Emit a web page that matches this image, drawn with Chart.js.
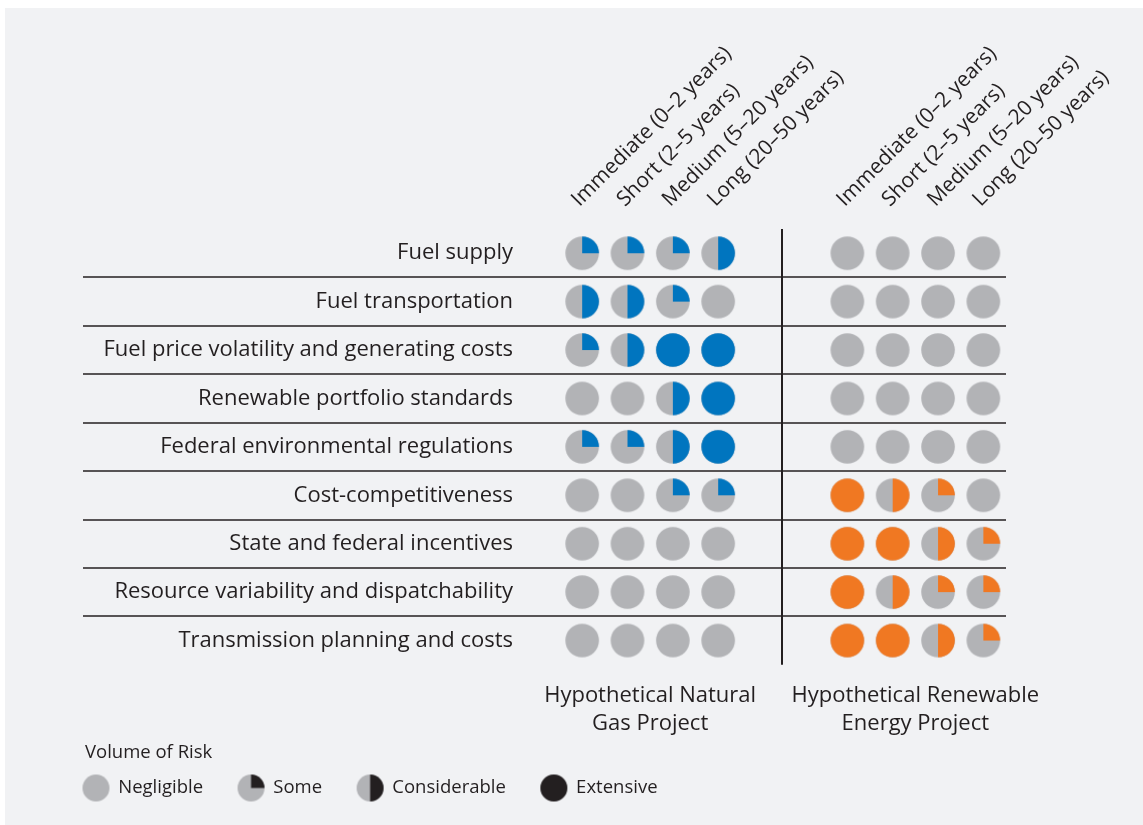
<!DOCTYPE html>
<html>
<head>
<meta charset="utf-8">
<script src="https://cdn.jsdelivr.net/npm/chart.js@4.4.0/dist/chart.umd.min.js"></script>
<style>
  html, body { margin: 0; padding: 0; background: #ffffff; }
  #wrap { width: 1143px; height: 825px; }
</style>
</head>
<body>
<div id="wrap"><canvas id="riskChart"></canvas></div>
<script>
var risks = [
  "Fuel supply",
  "Fuel transportation",
  "Fuel price volatility and generating costs",
  "Renewable portfolio standards",
  "Federal environmental regulations",
  "Cost-competitiveness",
  "State and federal incentives",
  "Resource variability and dispatchability",
  "Transmission planning and costs"
];
var horizons = ["Immediate (0\u20132 years)", "Short (2\u20135 years)", "Medium (5\u201320 years)", "Long (20\u201350 years)"];
var projectLabels = [
  ["Hypothetical Natural", "Gas Project"],
  ["Hypothetical Renewable", "Energy Project"]
];
var riskLevels = ["Negligible", "Some", "Considerable", "Extensive"];

// 0 = negligible, 1 = some, 2 = considerable, 3 = extensive
var gasRisk = [
  [1, 1, 1, 2],
  [2, 2, 1, 0],
  [1, 2, 3, 3],
  [0, 0, 2, 3],
  [1, 1, 2, 3],
  [0, 0, 1, 1],
  [0, 0, 0, 0],
  [0, 0, 0, 0],
  [0, 0, 0, 0]
];
var renewableRisk = [
  [0, 0, 0, 0],
  [0, 0, 0, 0],
  [0, 0, 0, 0],
  [0, 0, 0, 0],
  [0, 0, 0, 0],
  [3, 2, 1, 0],
  [3, 3, 2, 1],
  [3, 2, 1, 1],
  [3, 3, 2, 1]
];

var FONT = "'Open Sans', 'DejaVu Sans', sans-serif";
var TEXT = '#231f20';
var GREY = '#b2b3b6';
var BLUE = '#0075bf';
var ORANGE = '#f07822';
var PANEL = '#f1f2f4';

// column layout on the x scale
var GROUP_SHIFT = 5.85;     // first column of the second project
var DIVIDER_AT = 4.41;      // vertical rule between the projects
var RULE_LEFT = 83;         // row rules run out under the labels

var sweep = [0, Math.PI / 2, Math.PI, Math.PI * 2];

function makeBall(level, color, r) {
  var size = Math.ceil(r * 2) + 2;
  var c = document.createElement('canvas');
  c.width = size;
  c.height = size;
  var g = c.getContext('2d');
  var cx = size / 2, cy = size / 2;
  g.fillStyle = GREY;
  g.beginPath();
  g.arc(cx, cy, r, 0, Math.PI * 2);
  g.fill();
  if (level > 0) {
    g.fillStyle = color;
    g.beginPath();
    g.moveTo(cx, cy);
    g.arc(cx, cy, r, -Math.PI / 2, -Math.PI / 2 + sweep[level]);
    g.closePath();
    g.fill();
  }
  return c;
}

var gasBalls = [0, 1, 2, 3].map(function (l) { return makeBall(l, BLUE, 16.8); });
var renewableBalls = [0, 1, 2, 3].map(function (l) { return makeBall(l, ORANGE, 16.8); });
var legendBalls = [0, 1, 2, 3].map(function (l) { return makeBall(l, TEXT, 13.5); });

function cells(matrix, shift) {
  var out = [];
  matrix.forEach(function (row, r) {
    row.forEach(function (level, c) {
      out.push({ x: shift + c, y: risks[r], level: level });
    });
  });
  return out;
}

var columnTicks = [0, 1, 2, 3, GROUP_SHIFT, GROUP_SHIFT + 1, GROUP_SHIFT + 2, GROUP_SHIFT + 3];
var groupTicks = [1.5, GROUP_SHIFT + 1.5];

var framePlugin = {
  id: 'riskFrame',
  beforeDraw: function (chart) {
    var ctx = chart.ctx;
    ctx.save();
    ctx.fillStyle = PANEL;
    ctx.fillRect(5, 8, chart.width - 5, chart.height - 8);
    ctx.restore();
  },
  beforeDatasetsDraw: function (chart) {
    var ctx = chart.ctx;
    var area = chart.chartArea;
    var y = chart.scales.y;
    var x = chart.scales.x;
    ctx.save();
    ctx.strokeStyle = TEXT;
    ctx.lineWidth = 1.6;
    for (var i = 1; i < risks.length; i++) {
      var py = Math.round((y.getPixelForValue(i - 1) + y.getPixelForValue(i)) / 2);
      ctx.beginPath();
      ctx.moveTo(RULE_LEFT, py);
      ctx.lineTo(area.right, py);
      ctx.stroke();
    }
    var px = Math.round(x.getPixelForValue(DIVIDER_AT));
    ctx.lineWidth = 2;
    ctx.beginPath();
    ctx.moveTo(px, area.top);
    ctx.lineTo(px, area.bottom);
    ctx.stroke();
    ctx.restore();
  },
  afterDraw: function (chart) {
    var box = chart.legend.legendHitBoxes[0];
    if (!box) return;
    var ctx = chart.ctx;
    ctx.save();
    ctx.fillStyle = TEXT;
    ctx.font = '18.5px ' + FONT;
    ctx.textAlign = 'left';
    ctx.textBaseline = 'middle';
    ctx.fillText('Volume of Risk', box.left + 2, box.top + box.height / 2 - 35);
    ctx.restore();
  }
};

new Chart(document.getElementById('riskChart'), {
  type: 'scatter',
  data: {
    datasets: [
      {
        label: 'Natural gas',
        data: cells(gasRisk, 0),
        pointStyle: function (c) { return gasBalls[c.raw.level]; },
        pointRadius: 17
      },
      {
        label: 'Renewable energy',
        data: cells(renewableRisk, GROUP_SHIFT),
        pointStyle: function (c) { return renewableBalls[c.raw.level]; },
        pointRadius: 17
      }
    ]
  },
  options: {
    responsive: true,
    maintainAspectRatio: false,
    animation: false,
    events: [],
    layout: { padding: { left: 48, right: 137, top: 0, bottom: 17.75 } },
    scales: {
      x: {
        type: 'linear',
        position: 'top',
        min: -0.93,
        max: 9.35,
        afterBuildTicks: function (scale) {
          scale.ticks = columnTicks.map(function (v) { return { value: v }; });
        },
        afterFit: function (scale) { scale.height = 229; },
        ticks: {
          autoSkip: false,
          minRotation: 45,
          maxRotation: 45,
          padding: 17,
          labelOffset: 11,
          color: TEXT,
          font: { family: FONT, size: 21 },
          callback: function (value, index) { return horizons[index % horizons.length]; }
        },
        grid: { display: false, drawTicks: false },
        border: { display: false }
      },
      xb: {
        type: 'linear',
        axis: 'x',
        position: 'bottom',
        min: -0.93,
        max: 9.35,
        afterBuildTicks: function (scale) {
          scale.ticks = groupTicks.map(function (v) { return { value: v }; });
        },
        afterFit: function (scale) { scale.height = 79; },
        ticks: {
          autoSkip: false,
          maxRotation: 0,
          padding: 17,
          color: TEXT,
          font: { family: FONT, size: 22, lineHeight: 1.27 },
          callback: function (value, index) { return projectLabels[index]; }
        },
        grid: { display: false, drawTicks: false },
        border: { display: false }
      },
      y: {
        type: 'category',
        labels: risks,
        offset: true,
        position: 'left',
        afterFit: function (scale) { scale.width = 492; },
        ticks: {
          padding: 27,
          color: TEXT,
          font: { family: FONT, size: 22 }
        },
        grid: { display: false, drawTicks: false },
        border: { display: false }
      }
    },
    plugins: {
      tooltip: { enabled: false },
      legend: {
        position: 'bottom',
        align: 'start',
        onClick: function () {},
        labels: {
          usePointStyle: true,
          pointStyleWidth: 26,
          padding: 35,
          color: TEXT,
          font: { family: FONT, size: 18.5 },
          generateLabels: function () {
            return riskLevels.map(function (name, i) {
              return {
                text: name,
                pointStyle: legendBalls[i],
                fillStyle: 'transparent',
                strokeStyle: 'transparent',
                lineWidth: 0,
                fontColor: TEXT,
                hidden: false
              };
            });
          }
        }
      }
    }
  },
  plugins: [framePlugin]
});
</script>
</body>
</html>
